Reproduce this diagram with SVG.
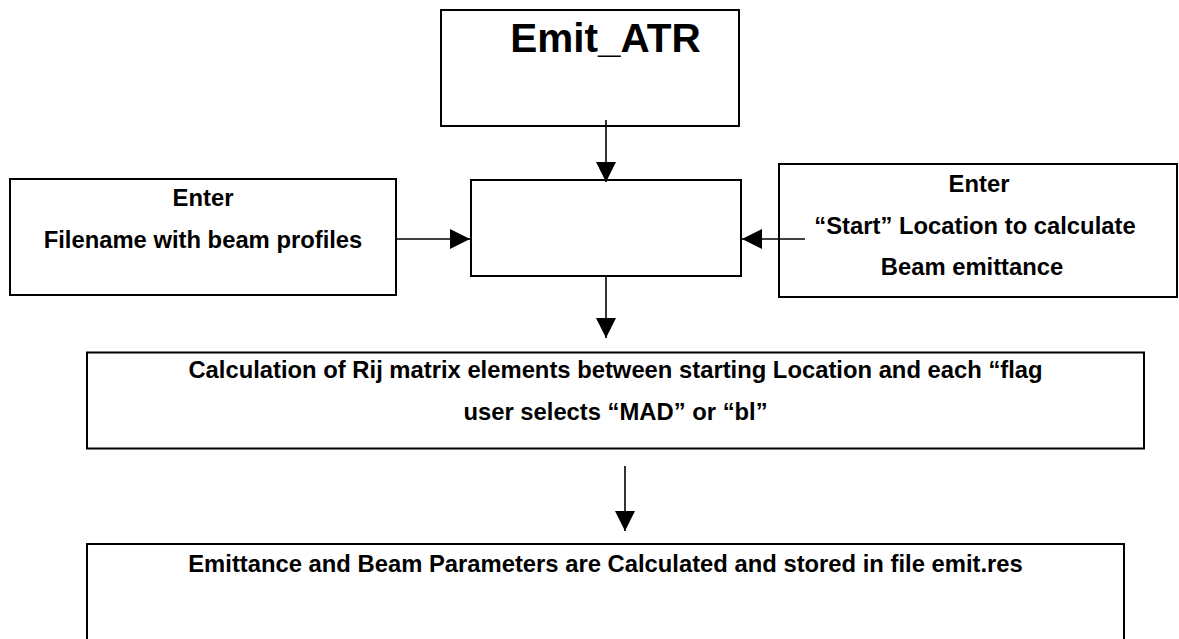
<svg xmlns="http://www.w3.org/2000/svg" width="1179" height="639" viewBox="0 0 1179 639">
  <style>
    .box { fill: #ffffff; stroke: #000000; stroke-width: 2; }
    .link { fill: none; stroke: #000000; stroke-width: 1.6; marker-end: url(#head); }
    .lbl { font-family: "Liberation Sans", Arial, sans-serif; font-weight: bold; font-size: 23.8px; fill: #000000; text-anchor: middle; }
    .title { font-family: "Liberation Sans", Arial, sans-serif; font-weight: bold; font-size: 40.5px; fill: #000000; text-anchor: middle; }
  </style>
  <defs>
    <marker id="head" markerUnits="userSpaceOnUse" markerWidth="20" markerHeight="20" viewBox="0 0 20 20" refX="20" refY="10" orient="auto">
      <path d="M0,0 L20,10 L0,20 Z" fill="#000000"/>
    </marker>
  </defs>
  <rect width="1179" height="639" fill="#ffffff"/>

  <!-- program title -->
  <g id="node-emit-atr">
    <rect class="box" x="441" y="10" width="298" height="116"/>
    <text class="title" x="605.5" y="52">Emit_ATR</text>
  </g>

  <!-- central input collector -->
  <g id="node-input">
    <rect class="box" x="471" y="180" width="270" height="96"/>
  </g>

  <!-- filename input -->
  <g id="node-filename">
    <rect class="box" x="10" y="179" width="386" height="116"/>
    <text class="lbl" x="203" y="205.5">Enter</text>
    <text class="lbl" x="203" y="248">Filename with beam profiles</text>
  </g>

  <!-- start location input -->
  <g id="node-start">
    <rect class="box" x="779" y="164" width="398" height="133"/>
    <text class="lbl" x="979" y="192">Enter</text>
    <text class="lbl" x="975" y="234">“Start” Location to calculate</text>
    <text class="lbl" x="972" y="275">Beam emittance</text>
  </g>

  <!-- transfer matrix calculation -->
  <g id="node-rij">
    <rect class="box" x="87" y="352.5" width="1057" height="96"/>
    <text class="lbl" x="615.5" y="378">Calculation of Rij matrix elements between starting Location and each “flag</text>
    <text class="lbl" x="615.5" y="420">user selects “MAD” or “bl”</text>
  </g>

  <!-- results -->
  <g id="node-results">
    <rect class="box" x="87" y="544" width="1037" height="120"/>
    <text class="lbl" x="605.5" y="571.5">Emittance and Beam Parameters are Calculated and stored in file emit.res</text>
  </g>

  <!-- connectors -->
  <g id="connectors">
    <line class="link" x1="606" y1="120" x2="606" y2="182"/>
    <line class="link" x1="396" y1="239" x2="470" y2="239"/>
    <line class="link" x1="805" y1="239" x2="742" y2="239"/>
    <line class="link" x1="606" y1="276" x2="606" y2="338"/>
    <line class="link" x1="625" y1="466" x2="625" y2="531"/>
  </g>
</svg>
